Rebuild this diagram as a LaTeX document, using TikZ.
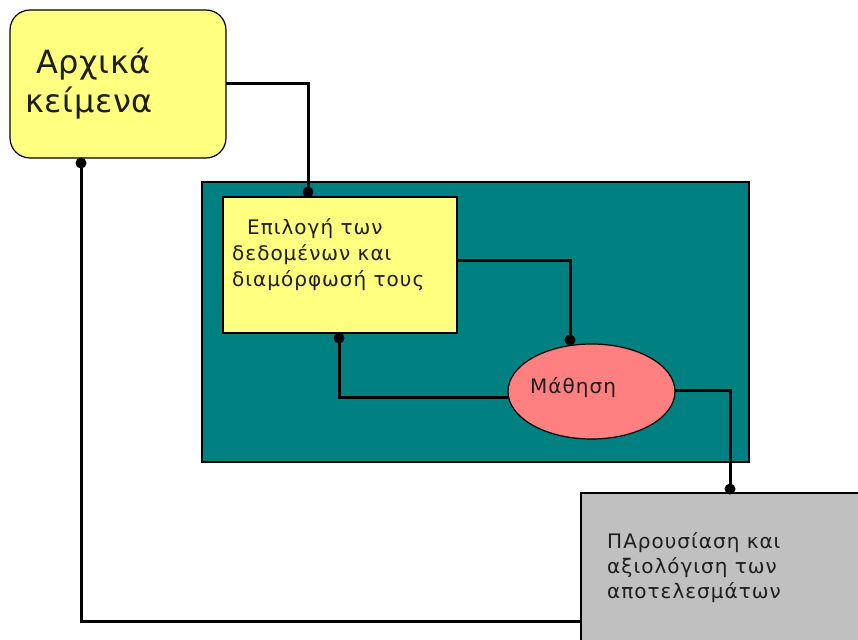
\documentclass[tikz,border=0pt]{standalone}
\usepackage{fontspec}
\usetikzlibrary{shapes.geometric}
\setmainfont{DejaVu Sans}
\newfontfamily\widesans[LetterSpace=5]{DejaVu Sans}
\newfontfamily\bigsans[LetterSpace=2]{DejaVu Sans}
\definecolor{paleyellow}{HTML}{FFFF80}
\definecolor{teal}{HTML}{008080}
\definecolor{salmon}{HTML}{FF8080}
\definecolor{boxgray}{HTML}{C0C0C0}
\definecolor{ink}{HTML}{1E1E1E}
\begin{document}
\begin{tikzpicture}[x=1pt,y=-1pt,
  box/.style={draw=black, line width=1.2pt, inner sep=0pt, outer sep=0pt},
  wire/.style={draw=black, line width=3pt},
  txt/.style={anchor=base west, inner sep=0pt, text=ink},
  bigtxt/.style={txt, font=\bigsans\fontsize{32}{39}\selectfont},
  midtxt/.style={txt, font=\widesans\fontsize{20}{25}\selectfont},
  dotmark/.style={fill=black}]
  \clip (0,0) rectangle (858,639);
  \fill[white] (0,0) rectangle (858,639);

  % boxes
  \node[box, fill=paleyellow, rounded corners=20pt, minimum width=216pt, minimum height=148pt] (src) at (118,84) {};
  \node[box, fill=teal, minimum width=547pt, minimum height=280pt] (area) at (475.5,322) {};
  \node[box, fill=paleyellow, minimum width=234pt, minimum height=136pt] (sel) at (340,265) {};
  \node[box, fill=salmon, ellipse, minimum width=167pt, minimum height=95pt] (learn) at (591.5,391.5) {};
  \node[box, fill=boxgray, minimum width=300pt, minimum height=256pt] (out) at (731,621) {};

  % texts
  \node[bigtxt] (srcA) at (36,74) {Αρχικά};
  \node[bigtxt] (srcB) at (25,113) {κείμενα};
  \node[midtxt] (selA) at (247,234) {Επιλογή των};
  \node[midtxt] (selB) at (232,260) {δεδομένων και};
  \node[midtxt] (selC) at (232,286) {διαμόρφωσή τους};
  \node[midtxt] (learnT) at (530,393) {Μάθηση};
  \node[midtxt] (outA) at (607,548) {ΠΑρουσίαση και};
  \node[midtxt] (outB) at (607,573) {αξιολόγιση των};
  \node[midtxt] (outC) at (607,598) {αποτελεσμάτων};

  % connector end points
  \coordinate (d1) at (308,192);
  \coordinate (d2) at (570,340);
  \coordinate (d3) at (339,338);
  \coordinate (d4) at (730,489);
  \coordinate (d5) at (81,163);

  % connectors
  \draw[wire] (src.east) -| (d1);
  \draw[wire] ([yshift=5pt]sel.east) -| (d2);
  \draw[wire] ([yshift=-5.5pt]learn.west) -| (d3);
  \draw[wire] ([yshift=1.5pt]learn.east) -| (d4);
  \draw[wire] (out.west) -| (d5);
  \foreach \p in {d1,d2,d3,d4,d5} \fill[dotmark] (\p) circle (5.5pt);
\end{tikzpicture}
\end{document}
